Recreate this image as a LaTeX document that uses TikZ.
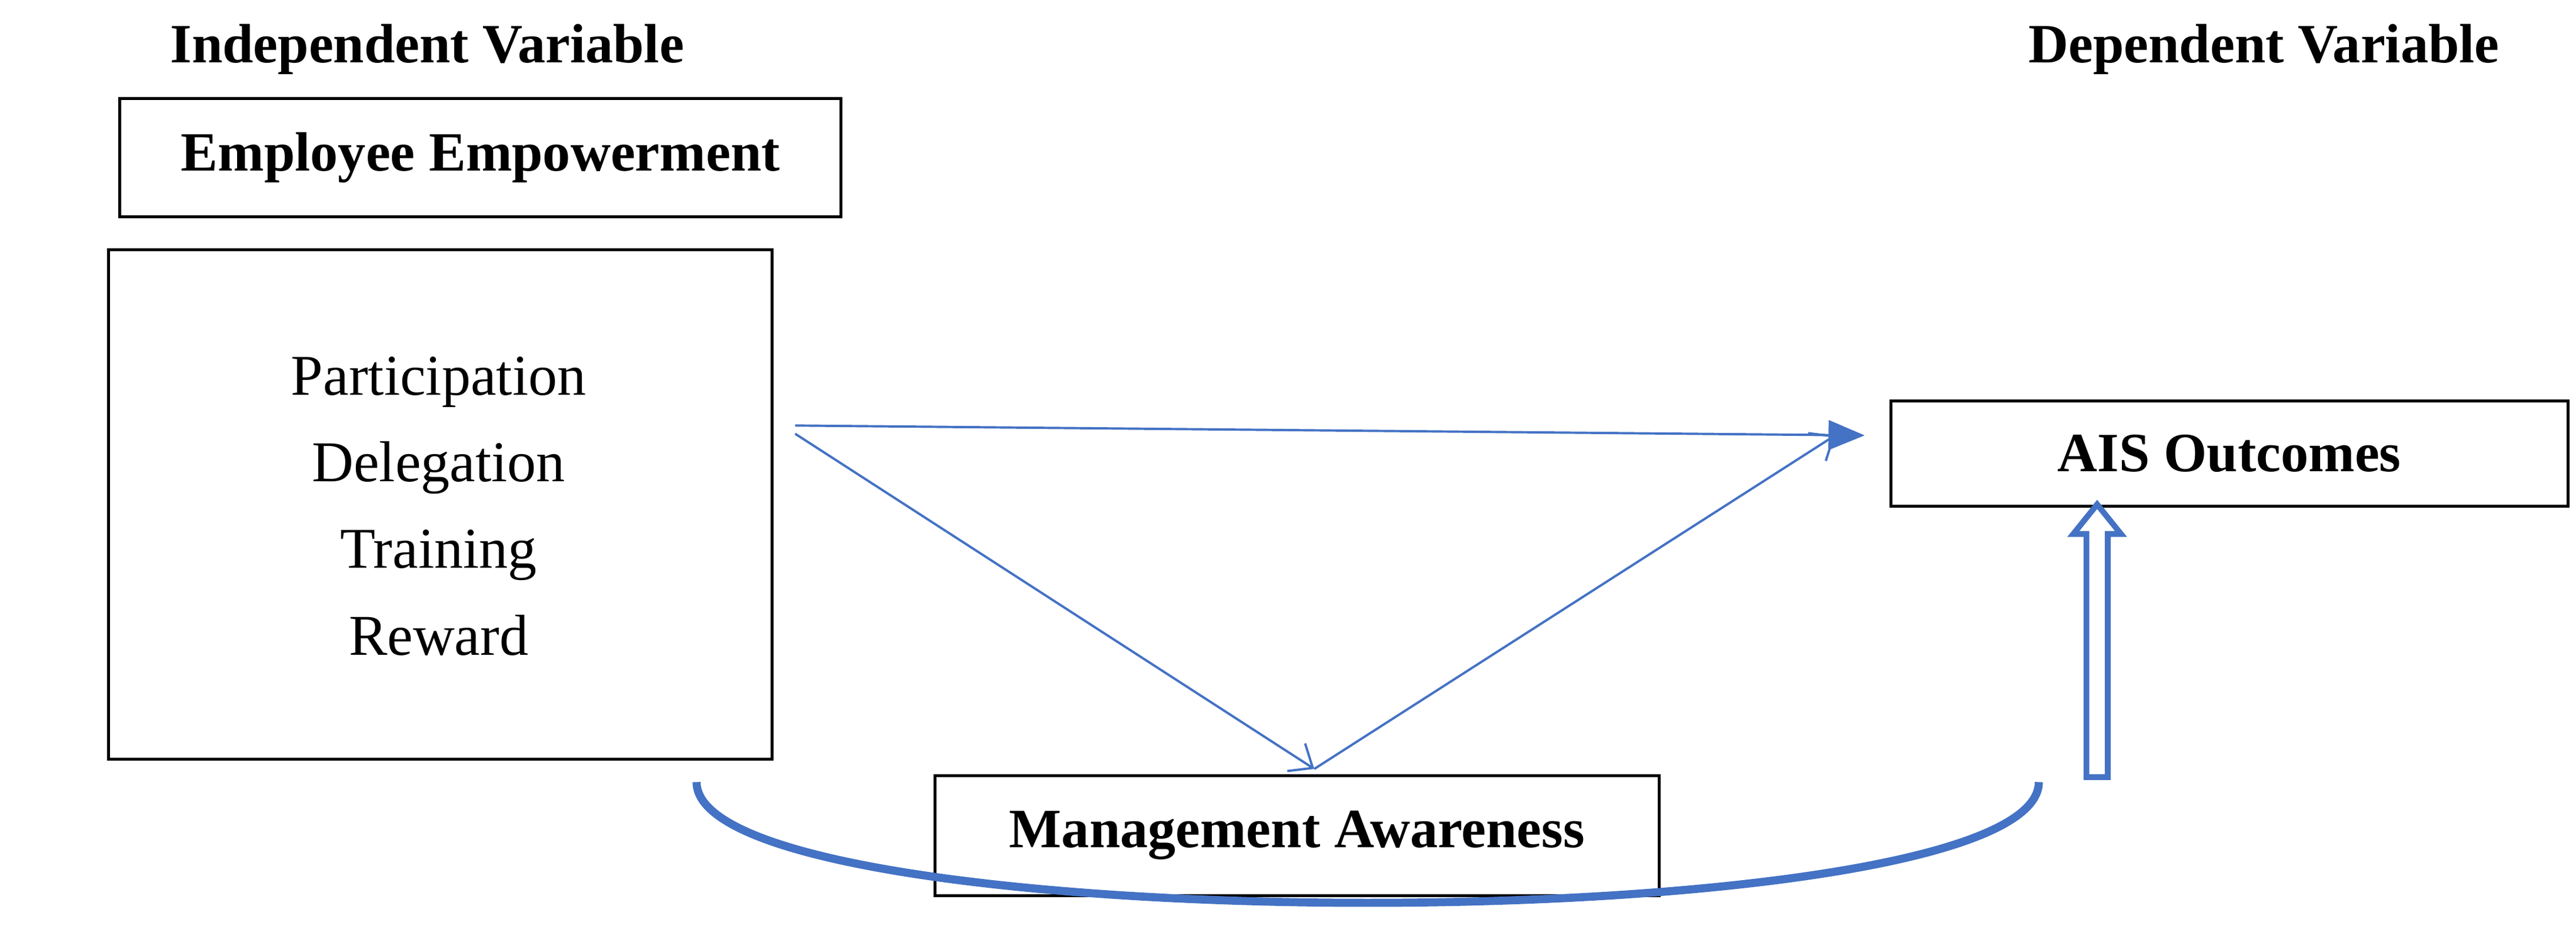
\documentclass[tikz,border=0pt]{standalone}
\usepackage{fontspec}
\setmainfont{Liberation Serif}
\usetikzlibrary{arrows.meta}
\definecolor{ablue}{RGB}{68,114,196}
\tikzset{
  box/.style={draw, line width=0.5pt, inner sep=0pt},
  head/.style={font=\fontsize{9.6pt}{11pt}\selectfont\bfseries},
  link/.style={ablue, line width=0.4pt},
}
\begin{document}
\begin{tikzpicture}[x=1cm, y=1cm]
\useasboundingbox (0,0) rectangle (15.68,-5.636);

% Titres
\node[head] (indep) at (2.60,-0.30) {Independent Variable};
\node[head] (dep) at (13.78,-0.30) {Dependent Variable};

% Boites
\node[box, head, minimum width=4.39cm, minimum height=0.72cm] (emp) at (2.925,-0.96) {Employee Empowerment};
\node[box, minimum width=4.04cm, minimum height=3.10cm] (dims) at (2.68,-3.07) {};
\node[font=\fontsize{10pt}{15pt}\selectfont, align=center] (dimtxt) at (2.67,-3.08)
  {Participation\\Delegation\\Training\\Reward};
\node[box, head, minimum width=4.12cm, minimum height=0.64cm] (ais) at (13.57,-2.76) {AIS Outcomes};
\node[box, head, minimum width=4.41cm, minimum height=0.73cm] (mgmt) at (7.895,-5.085) {Management Awareness};

% Fleches
\coordinate (s1) at (4.84,-2.59);
\coordinate (s2) at (4.84,-2.64);
\coordinate (mt) at (8.00,-4.68);
\coordinate (a1) at (11.35,-2.65);
\coordinate (a2) at (11.17,-2.65);
\draw[link, -{Triangle[length=0.22cm, width=0.18cm]}] (s1) -- (a1);
\draw[link, -{Straight Barb[length=0.12cm, width=0.2cm]}] (s2) -- (mt);
\draw[link, -{Straight Barb[length=0.12cm, width=0.2cm]}] (mt) -- (a2);

% Fleche creuse
\draw[ablue, line width=1pt] (12.70,-4.73) -- (12.70,-3.25) -- (12.62,-3.25)
  -- (12.765,-3.07) -- (12.91,-3.25) -- (12.83,-3.25) -- (12.83,-4.73) -- cycle;

% Arc du bas
\draw[ablue, line width=1.4pt] (4.24,-4.76) .. controls (4.24,-5.74) and (12.41,-5.74) .. (12.41,-4.76);
\end{tikzpicture}
\end{document}
